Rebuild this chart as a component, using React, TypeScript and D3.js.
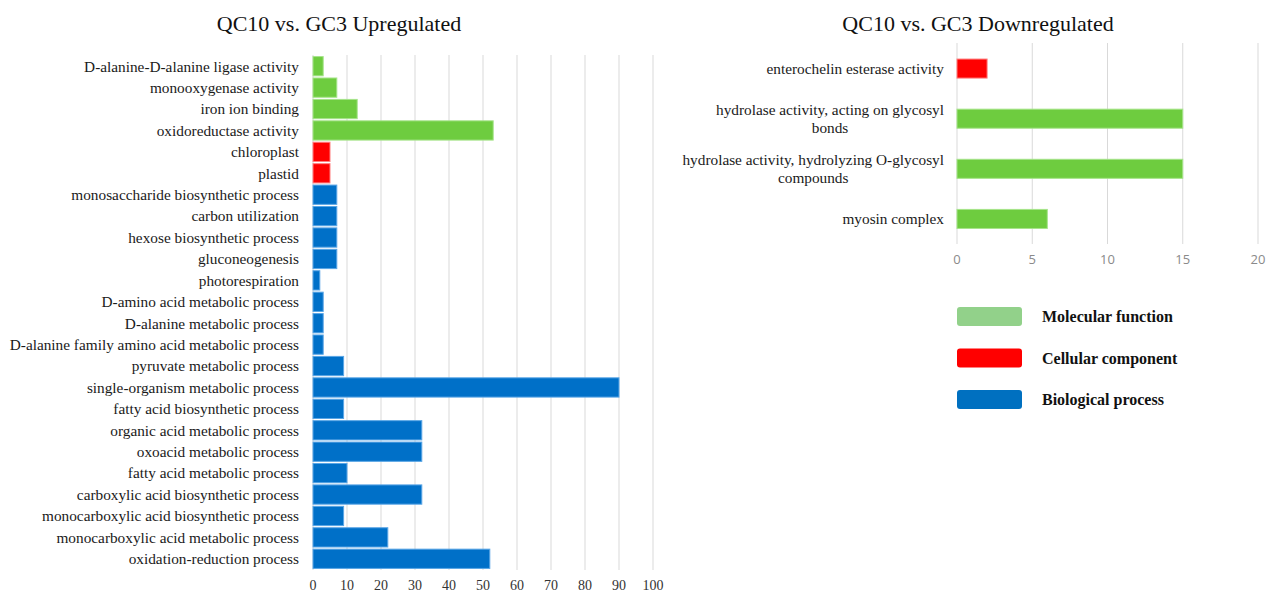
import React from "react";
import * as d3 from "d3";

// GO term enrichment, QC10 vs. GC3
type Kind = "MF" | "CC" | "BP";

const upTerms: string[] = [
  "D-alanine-D-alanine ligase activity",
  "monooxygenase activity",
  "iron ion binding",
  "oxidoreductase activity",
  "chloroplast",
  "plastid",
  "monosaccharide biosynthetic process",
  "carbon utilization",
  "hexose biosynthetic process",
  "gluconeogenesis",
  "photorespiration",
  "D-amino acid metabolic process",
  "D-alanine metabolic process",
  "D-alanine family amino acid metabolic process",
  "pyruvate metabolic process",
  "single-organism metabolic process",
  "fatty acid biosynthetic process",
  "organic acid metabolic process",
  "oxoacid metabolic process",
  "fatty acid metabolic process",
  "carboxylic acid biosynthetic process",
  "monocarboxylic acid biosynthetic process",
  "monocarboxylic acid metabolic process",
  "oxidation-reduction process",
];
const upCounts: number[] = [3, 7, 13, 53, 5, 5, 7, 7, 7, 7, 2, 3, 3, 3, 9, 90, 9, 32, 32, 10, 32, 9, 22, 52];
const upKinds: Kind[] = [
  "MF", "MF", "MF", "MF", "CC", "CC",
  "BP", "BP", "BP", "BP", "BP", "BP", "BP", "BP", "BP", "BP", "BP", "BP", "BP", "BP", "BP", "BP", "BP", "BP",
];
const upTicks: number[] = [0, 10, 20, 30, 40, 50, 60, 70, 80, 90, 100];

const downTerms: string[] = [
  "enterochelin esterase activity",
  "hydrolase activity, acting on glycosyl bonds",
  "hydrolase activity, hydrolyzing O-glycosyl compounds",
  "myosin complex",
];
const downCounts: number[] = [2, 15, 15, 6];
const downKinds: Kind[] = ["CC", "MF", "MF", "MF"];
const downTicks: number[] = [0, 5, 10, 15, 20];

const legendKinds: Kind[] = ["MF", "CC", "BP"];
const legendNames: string[] = ["Molecular function", "Cellular component", "Biological process"];

const barFill: Record<Kind, string> = { MF: "#6ecc3f", CC: "#ff0000", BP: "#0070c8" };
const barEdge: Record<Kind, string> = { MF: "#a6e48a", CC: "#ff8080", BP: "#5aa6e6" };
const legendFill: Record<Kind, string> = { MF: "#92d18a", CC: "#ff0000", BP: "#0070c0" };

const SERIF = "'Liberation Serif', 'Times New Roman', serif";
const SANS = "'Open Sans', 'Noto Sans', sans-serif";
const LABEL_SIZE = 15.3;

let measureCtx: CanvasRenderingContext2D | null = null;
function textWidth(s: string, font: string): number {
  if (!measureCtx) measureCtx = document.createElement("canvas").getContext("2d");
  if (!measureCtx) return s.length * 6.8;
  measureCtx.font = font;
  return measureCtx.measureText(s).width;
}

function wrap(s: string, maxChars: number): string[] {
  const words = s.split(" ");
  const lines: string[] = [];
  let cur = "";
  for (const w of words) {
    const next = cur ? cur + " " + w : w;
    if (next.length > maxChars && cur) {
      lines.push(cur);
      cur = w;
    } else cur = next;
  }
  if (cur) lines.push(cur);
  return lines;
}

function CategoryLabel({ text, x, y, maxChars }: { text: string; x: number; y: number; maxChars: number }) {
  const lines = wrap(text, maxChars);
  if (lines.length === 1) {
    return (
      <text x={x} y={y} dy="0.35em" textAnchor="end" fontFamily={SERIF} fontSize={LABEL_SIZE} fill="#1a1a1a">
        {text}
      </text>
    );
  }
  const font = `${LABEL_SIZE}px ${SERIF}`;
  const widest = d3.max(lines, (l) => textWidth(l, font)) ?? 0;
  const cx = x - widest / 2;
  const lh = 18.5;
  const y0 = y - ((lines.length - 1) * lh) / 2;
  return (
    <text textAnchor="middle" fontFamily={SERIF} fontSize={LABEL_SIZE} fill="#1a1a1a">
      {lines.map((l, i) => (
        <tspan key={i} x={cx} y={y0 + i * lh} dy="0.35em">
          {l}
        </tspan>
      ))}
    </text>
  );
}

export default function App() {
  const W = 1266;
  const H = 593;

  // Upregulated panel
  const xUp = d3.scaleLinear().domain([0, 100]).range([313, 653]);
  const yUp = d3.scaleBand<string>().domain(upTerms).range([55.5, 569.5]).paddingInner(0.1).paddingOuter(0.05);

  // Downregulated panel
  const xDown = d3.scaleLinear().domain([0, 20]).range([957, 1258]);
  const yDown = d3.scaleBand<string>().domain(downTerms).range([43.5, 244]).paddingInner(0.62).paddingOuter(0.31);

  const yLegend = d3.scalePoint<string>().domain(legendNames).range([316.5, 399.5]);

  return (
    <svg width={W} height={H} style={{ position: "absolute", left: 0, top: 0, background: "#fff" }}>
      <rect width={W} height={H} fill="#fff" />

      {/* titles */}
      <text x={339} y={31} textAnchor="middle" fontFamily={SERIF} fontSize={22} fill="#111">
        QC10 vs. GC3 Upregulated
      </text>
      <text x={978} y={31} textAnchor="middle" fontFamily={SERIF} fontSize={22} fill="#111">
        QC10 vs. GC3 Downregulated
      </text>

      {/* upregulated: grid */}
      {upTicks.map((t) => (
        <g key={`ug${t}`}>
          <line x1={xUp(t)} x2={xUp(t)} y1={55} y2={570} stroke="#d9d9d9" strokeWidth={1} />
          <text x={xUp(t)} y={585} dy="0.35em" textAnchor="middle" fontFamily={SERIF} fontSize={14} fill="#333">
            {t}
          </text>
        </g>
      ))}
      {/* upregulated: bars */}
      {upTerms.map((term, i) => {
        const k = upKinds[i];
        const y = yUp(term) ?? 0;
        return (
          <g key={term}>
            <rect
              x={xUp(0)}
              y={y}
              width={xUp(upCounts[i]) - xUp(0)}
              height={yUp.bandwidth()}
              fill={barFill[k]}
              stroke={barEdge[k]}
              strokeWidth={1}
            />
            <CategoryLabel text={term} x={299} y={y + yUp.bandwidth() / 2} maxChars={200} />
          </g>
        );
      })}

      {/* downregulated: grid */}
      {downTicks.map((t) => (
        <g key={`dg${t}`}>
          <line x1={xDown(t)} x2={xDown(t)} y1={43} y2={244} stroke="#d9d9d9" strokeWidth={1} />
          <text x={xDown(t)} y={259} dy="0.35em" textAnchor="middle" fontFamily={SANS} fontSize={13} fill="#8a8a8a">
            {t}
          </text>
        </g>
      ))}
      {/* downregulated: bars */}
      {downTerms.map((term, i) => {
        const k = downKinds[i];
        const y = yDown(term) ?? 0;
        return (
          <g key={term}>
            <rect
              x={xDown(0)}
              y={y}
              width={xDown(downCounts[i]) - xDown(0)}
              height={yDown.bandwidth()}
              fill={barFill[k]}
              stroke={barEdge[k]}
              strokeWidth={1}
            />
            <CategoryLabel text={term} x={944} y={y + yDown.bandwidth() / 2} maxChars={42} />
          </g>
        );
      })}

      {/* legend */}
      {legendNames.map((name, i) => {
        const cy = yLegend(name) ?? 0;
        return (
          <g key={name}>
            <rect x={957} y={cy - 9.5} width={65} height={19} rx={3} fill={legendFill[legendKinds[i]]} />
            <text x={1042} y={cy} dy="0.35em" fontFamily={SERIF} fontWeight="bold" fontSize={16} fill="#111">
              {name}
            </text>
          </g>
        );
      })}
    </svg>
  );
}
